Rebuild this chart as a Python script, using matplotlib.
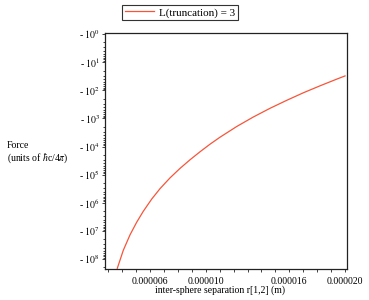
"""Casimir force between two spheres versus separation (log magnitude, negative force)."""

import matplotlib
matplotlib.use("Agg")
import matplotlib.pyplot as plt
from matplotlib.ticker import FixedFormatter, FixedLocator, LogLocator, NullFormatter

plt.rcParams["font.family"] = ["Liberation Serif", "DejaVu Serif"]
plt.rcParams["mathtext.fontset"] = "stix"

# inter-sphere separation r[1,2] in metres
separation = [
    3.653e-6, 4.083e-6, 4.564e-6, 5.045e-6, 5.519e-6, 6.122e-6, 6.718e-6,
    7.436e-6, 8.154e-6, 8.871e-6, 9.589e-6, 10.307e-6, 11.025e-6, 12.224e-6,
    13.416e-6, 14.615e-6, 15.813e-6, 17.005e-6, 18.204e-6, 19.403e-6, 20.0e-6,
]
# force in units of hbar c / 4 pi (attractive, so negative)
force = [
    -2.14e8, -4.91e7, -1.39e7, -4.92e6, -2.01e6, -7.41e5, -3.16e5,
    -1.306e5, -6.01e4, -2.97e4, -1.542e4, -8.28e3, -4.67e3, -1.945e3,
    -893.0, -438.0, -228.0, -123.0, -69.5, -40.2, -30.9,
]
legend_label = "L(truncation) = 3"

x_tick_values = [6e-6, 10e-6, 16e-6, 20e-6]
x_tick_labels = ["0.000006", "0.000010", "0.000016", "0.000020"]
x_minor_values = [k * 1e-6 for k in range(3, 21)]
y_exponents = [0, 1, 2, 3, 4, 5, 6, 7, 8]

W, H = 369, 300
fig = plt.figure(figsize=(W / 100, H / 100), dpi=100)
ax = fig.add_axes([105 / W, 31 / H, 242 / W, 236 / H])

magnitude = [-f for f in force]
line, = ax.plot(separation, magnitude, color="#f7553a", lw=0.9, label=legend_label)

ax.set_yscale("log")
ax.set_xlim(2.77e-6, 20.14e-6)
ax.set_ylim(2.27e8, 0.92)

ax.yaxis.set_major_locator(FixedLocator([10.0 ** e for e in y_exponents]))
ax.yaxis.set_major_formatter(FixedFormatter([rf"- $10^{{{e}}}$" for e in y_exponents]))
ax.yaxis.set_minor_locator(LogLocator(base=10, subs=range(2, 10), numticks=20))
ax.yaxis.set_minor_formatter(NullFormatter())

ax.xaxis.set_major_locator(FixedLocator(x_tick_values))
ax.xaxis.set_major_formatter(FixedFormatter(x_tick_labels))
ax.xaxis.set_minor_locator(FixedLocator(x_minor_values))

ax.tick_params(axis="both", which="both", direction="out", width=0.6, colors="#222222",
               labelcolor="black", labelsize=7)
ax.tick_params(axis="y", which="major", length=2.4, pad=1.2)
ax.tick_params(axis="y", which="minor", length=1.6)
ax.tick_params(axis="x", which="both", length=2.4, pad=3)

for sp in ax.spines.values():
    sp.set_linewidth(0.9)
    sp.set_color("#222222")

fig.text(7 / W, 1 - 146 / H, "Force", fontsize=7, ha="left", va="center")
fig.text(7 / W, 1 - 158 / H, r"(units of $\hbar$c/4$\pi$)", fontsize=7, ha="left", va="center")
fig.text(220 / W, 1 - 290 / H, "inter-sphere separation r[1,2] (m)", fontsize=7,
         ha="center", va="center")

leg = fig.legend(handles=[line], loc="center", bbox_to_anchor=(180 / W, 1 - 12.5 / H),
                 fontsize=8, frameon=True, fancybox=False, framealpha=1,
                 edgecolor="#333333", handlelength=2.6, handletextpad=0.5,
                 borderpad=0.25, borderaxespad=0)
leg.get_frame().set_linewidth(0.8)

fig.savefig("out.png", dpi=100)
